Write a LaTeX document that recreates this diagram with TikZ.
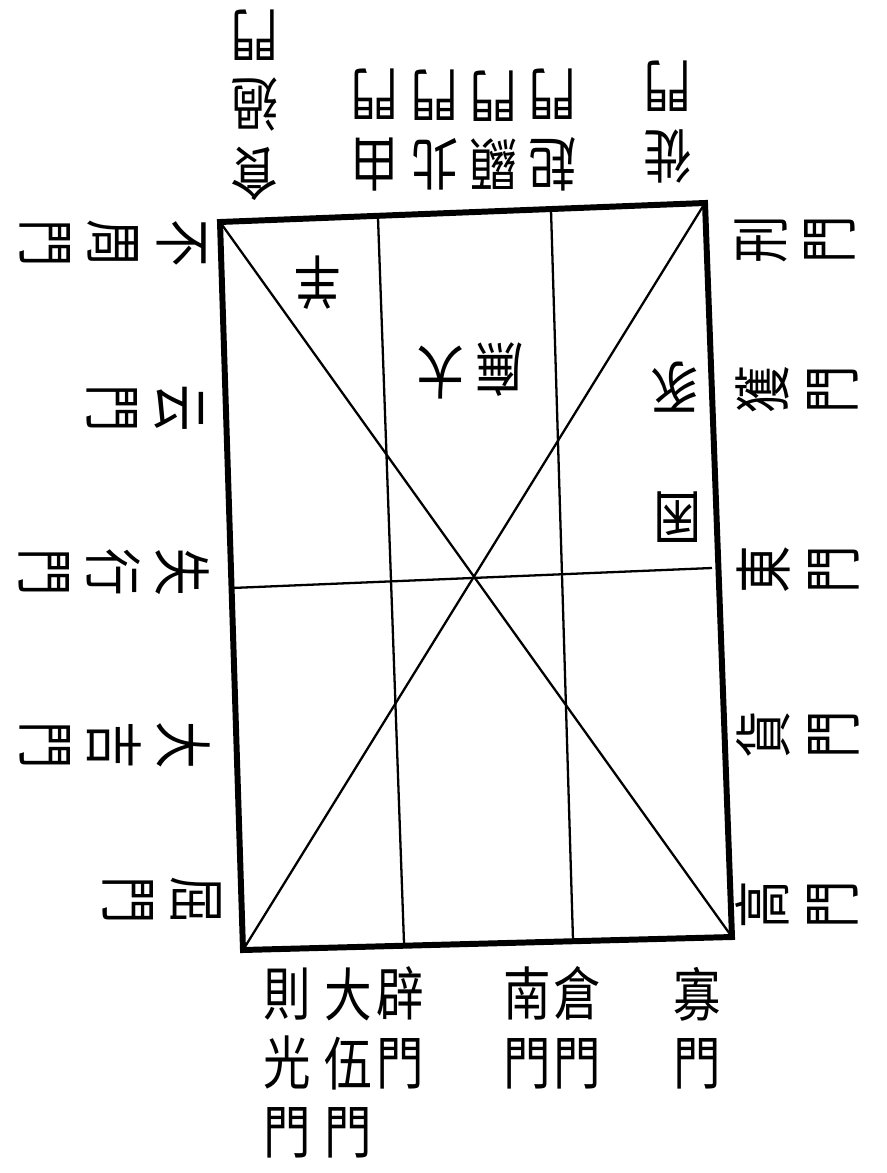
\documentclass[tikz,border=0pt]{standalone}
\usepackage{fontspec}
\newfontfamily\cjk[FakeStretch=0.82]{Noto Sans CJK TC}
\begin{document}
\begin{tikzpicture}[x=0.02cm, y=-0.02cm,
    gate/.style={font=\cjk\fontsize{33}{39}\selectfont, align=center, inner sep=0pt},
    wall/.style={line width=3.4pt, line join=miter},
    cut/.style={line width=1.3pt}]
    \useasboundingbox (0,0) rectangle (886,1173);
    % Define corner and line positions
    \coordinate (nw) at (220,222); \coordinate (ne) at (705,203);
    \coordinate (se) at (732,937); \coordinate (sw) at (243,950);
    \coordinate (t1) at (378,218); \coordinate (b1) at (404,943);
    \coordinate (t2) at (551,210); \coordinate (b2) at (573,940);
    \coordinate (w) at (232,588); \coordinate (e) at (712,568);
    % Draw the house
    \draw[cut] (nw) -- (se); \draw[cut] (ne) -- (sw);
    \draw[cut] (t1) -- (b1); \draw[cut] (t2) -- (b2);
    \draw[cut] (w) -- (e);
    \draw[wall] (nw) -- (ne) -- (se) -- (sw) -- cycle;
    % Inside the house
    \node[gate, rotate=180] (yang) at (318,283) {羊};
    \node[gate, rotate=180] (da) at (441,373) {大};
    \node[gate, rotate=180] (wu) at (500,370) {廡};
    \node[gate, rotate=180] (shi) at (675,387) {豕};
    \node[gate, rotate=180] (qun) at (678,517) {囷};
    % Gates on the bottom side
    \node[gate] (zeguang) at (287,1063) {則\\光\\門};
    \node[gate] (dawu) at (348,1063) {大\\伍\\門};
    \node[gate] (pi) at (400,1028) {辟\\門};
    \node[gate] (nan) at (527,1028) {南\\門};
    \node[gate] (cang) at (577,1028) {倉\\門};
    \node[gate] (gua) at (697,1028) {寡\\門};
    % Gates on the top side
    \node[gate, rotate=180] (shiguo) at (255,105) {食\\過\\門};
    \node[gate, rotate=180] (you) at (375,130) {由\\門};
    \node[gate, rotate=180] (bei) at (435,130) {北\\門};
    \node[gate, rotate=180] (xian) at (494,130) {顯\\門};
    \node[gate, rotate=180] (qi) at (553,130) {起\\門};
    \node[gate, rotate=180] (xi) at (668,122) {徙\\門};
    % Gates on the left side
    \node[gate, rotate=-90] (buzhou) at (113,243) {不\\周\\門};
    \node[gate, rotate=-90] (yun) at (145,408) {云\\門};
    \node[gate, rotate=-90] (shixing) at (114,572) {失\\行\\門};
    \node[gate, rotate=-90] (daji) at (115,745) {大\\吉\\門};
    \node[gate, rotate=-90] (qu) at (162,900) {屈\\門};
    % Gates on the right side
    \node[gate, rotate=90] (xing) at (795,240) {刑\\門};
    \node[gate, rotate=90] (huo) at (797,390) {獲\\門};
    \node[gate, rotate=90] (dong) at (798,570) {東\\門};
    \node[gate, rotate=90] (huomen) at (798,735) {貨\\門};
    \node[gate, rotate=90] (gao) at (797,905) {高\\門};
\end{tikzpicture}
\end{document}
